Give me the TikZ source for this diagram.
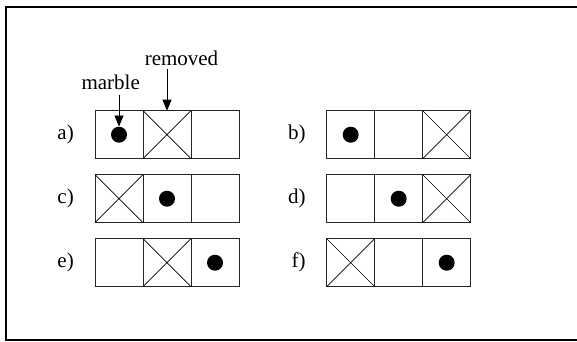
\documentclass[tikz,border=0pt]{standalone}
\usepackage{fontspec}
\setmainfont{Liberation Serif}
\usetikzlibrary{arrows.meta}
\begin{document}
\begin{tikzpicture}[x=1pt,y=-1pt,
  cell/.style={draw=black!85,line width=0.9pt,minimum size=48pt,inner sep=0pt,outer sep=0pt},
  marblemark/.style={circle,fill=black,minimum size=16pt,inner sep=0pt},
  lbl/.style={font=\fontsize{21}{25}\selectfont,inner sep=0pt,anchor=east},
  txt/.style={font=\fontsize{21}{25}\selectfont,inner sep=0pt,anchor=base},
  cross/.style={line width=0.7pt},
  pointer/.style={line width=0.9pt,-{Triangle[length=11pt,width=9pt]}}]
\useasboundingbox (0,0) rectangle (577,341);
\draw[line width=2pt] (590,6.5) -- (5.5,6.5) -- (5.5,340) -- (590,340);
% rows: name / label / x of first cell center / y / removed index / marble index
\foreach \n/\l/\x/\y/\r/\m in {a/a)/119/134.7/2/1, b/b)/350.7/134.7/3/1, c/c)/119/198.7/1/2, d/d)/350.7/198.7/3/2, e/e)/119/262.7/2/3, f/f)/350.7/262.7/1/3}{
  \node[lbl] (\n l) at (\x-45,\y) {\l};
  \foreach \i in {1,2,3}{
    \node[cell] (\n\i) at ({\x+48*(\i-1)},\y) {};
  }
  \draw[cross] (\n\r.north west) -- (\n\r.south east) (\n\r.north east) -- (\n\r.south west);
  \node[marblemark] (\n m) at (\n\m) {};
}
\node[txt] (marbletext) at (110.7,89.3) {marble};
\node[txt] (removedtext) at (181.5,65) {removed};
\draw[pointer] (am.north |- marbletext.south) ++(0,5) -- (am.north);
\draw[pointer] (a2.north |- removedtext.south) ++(0,4) -- (a2.north);
\end{tikzpicture}
\end{document}
